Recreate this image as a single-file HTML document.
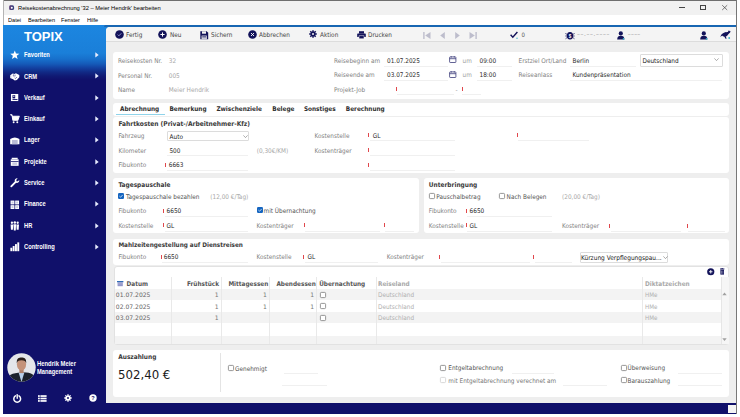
<!DOCTYPE html>
<html><head><meta charset="utf-8"><title>Reisekostenabrechnung</title>
<style>
html,body{margin:0;padding:0;width:740px;height:417px;overflow:hidden;background:#fff}
body{position:relative}
.t{position:absolute;white-space:nowrap;line-height:10px;height:10px}
svg{overflow:visible}
</style></head><body>
<div style="position:absolute;left:0px;top:0px;width:740px;height:417px;background:#fff"></div>
<div style="position:absolute;left:3px;top:0px;width:734px;height:1px;background:#6e6e6e"></div>
<div style="position:absolute;left:3px;top:0px;width:1px;height:24.8px;background:#b4b4b4"></div>
<div style="position:absolute;left:736px;top:0px;width:1px;height:414px;background:#777"></div>
<div style="position:absolute;left:4px;top:1px;width:732px;height:13.5px;background:#f1f1f1"></div>
<div style="position:absolute;left:4px;top:14.5px;width:732px;height:10.3px;background:#ffffff"></div>
<svg style="position:absolute;left:8.9px;top:4.6px" width="5.4" height="5.4" viewBox="0 0 5.4 5.4"><rect x="0.3" y="0.3" width="4.8" height="4.8" rx="1.6" fill="#3a3f7c"/><rect x="0.3" y="0.3" width="2.2" height="4.8" rx="1.1" fill="#6b3d78" opacity=".7"/><circle cx="2.8" cy="2.8" r="1" fill="#fff"/></svg>
<div class="t" style="left:18.0px;top:3.1px;font-size:6.1px;color:#000;font-weight:400;font-family:'Liberation Sans', Arial, sans-serif;transform:scaleX(0.94);transform-origin:0 0">Reisekostenabrechnung '32 – Meier Hendrik' bearbeiten</div>
<div style="position:absolute;left:678.5px;top:7.2px;width:6.2000000000000455px;height:0.7999999999999998px;background:#444"></div>
<div style="position:absolute;left:700px;top:5.1px;width:5.7999999999999545px;height:5.1px;border:0.9px solid #444;box-sizing:border-box"></div>
<svg style="position:absolute;left:722.4px;top:5px" width="5.4" height="5.2" viewBox="0 0 5.4 5.2"><path d="M0.2 0.2L5.2 5M5.2 0.2L0.2 5" stroke="#444" stroke-width="0.7"/></svg>
<div class="t" style="left:8.0px;top:14.7px;font-size:5.9px;color:#000;font-weight:400;font-family:'Liberation Sans', Arial, sans-serif;transform:scaleX(0.95);transform-origin:0 0">Datei</div>
<div class="t" style="left:27.5px;top:14.7px;font-size:5.9px;color:#000;font-weight:400;font-family:'Liberation Sans', Arial, sans-serif;transform:scaleX(0.95);transform-origin:0 0">Bearbeiten</div>
<div class="t" style="left:61.0px;top:14.7px;font-size:5.9px;color:#000;font-weight:400;font-family:'Liberation Sans', Arial, sans-serif;transform:scaleX(0.95);transform-origin:0 0">Fenster</div>
<div class="t" style="left:87.0px;top:14.7px;font-size:5.9px;color:#000;font-weight:400;font-family:'Liberation Sans', Arial, sans-serif;transform:scaleX(0.95);transform-origin:0 0">Hilfe</div>
<div style="position:absolute;left:3.4px;top:24.8px;width:732.6px;height:388.8px;background:linear-gradient(180deg,#1c86e0 0px,#1a7fd9 28px,#1770cc 34px,#155ab8 39px,#1340a0 43px,#112a86 47px,#101a74 51px,#10106a 55px,#10106a 100%)"></div>
<div style="position:absolute;left:104px;top:24.8px;width:632px;height:2.599999999999998px;background:#1766b2;border-top-left-radius:2px"></div>
<div style="position:absolute;left:106px;top:27.2px;width:630px;height:376.1px;background:#eeeeee;border-top-left-radius:4px"></div>
<div style="position:absolute;left:106px;top:27.2px;width:630px;height:13.8px;background:#f4f4f4;border-top-left-radius:4px;border-bottom:1px solid #dcdcdc"></div>
<div style="position:absolute;left:728px;top:405px;width:8px;height:8px;background:#f4f4f4"></div>
<div class="t" style="left:24.0px;top:32.4px;font-size:13px;color:#ffffff;font-weight:700;font-family:'Liberation Sans', Arial, sans-serif;">TOPIX</div>
<svg style="position:absolute;left:10.2px;top:50.4px" width="9.6" height="9.6" viewBox="0 0 10 10"><path d="M5.00 0.40 L6.23 3.70 L9.76 3.85 L7.00 6.05 L7.94 9.45 L5.00 7.50 L2.06 9.45 L3.00 6.05 L0.24 3.85 L3.77 3.70Z" fill="#fff"/></svg>
<div class="t" style="left:23.8px;top:50.2px;font-size:6.7px;color:#ffffff;font-weight:700;font-family:'Liberation Sans', Arial, sans-serif;transform:scaleX(0.86);transform-origin:0 0">Favoriten</div>
<svg style="position:absolute;left:94.8px;top:52.1px" width="4" height="6" viewBox="0 0 4 6"><path d="M0.3 0.3L3.7 2.9L0.3 5.5Z" fill="#e8ecff"/></svg>
<svg style="position:absolute;left:10.2px;top:71.7px" width="9.6" height="9.6" viewBox="0 0 10 10"><path d="M0.3 3.4L2.8 1.6L4.6 2.2L6.2 1.4L9.7 3L9.7 5.6L7.2 8.4L5 8.9L3.2 7.6L0.3 6.2Z" fill="#fff"/><path d="M4.6 2.2L3 3.6L4.2 4.4L6 3.2M6 5.2L7.4 6.2M4.8 6.2L6.2 7.2" stroke="#10106a" stroke-width="0.55" fill="none"/><path d="M0.3 3.4L0.3 6.2L1.4 6.8L1.4 3.8Z" fill="#c9cbe0"/></svg>
<div class="t" style="left:23.8px;top:71.5px;font-size:6.7px;color:#ffffff;font-weight:700;font-family:'Liberation Sans', Arial, sans-serif;transform:scaleX(0.86);transform-origin:0 0">CRM</div>
<svg style="position:absolute;left:94.8px;top:73.4px" width="4" height="6" viewBox="0 0 4 6"><path d="M0.3 0.3L3.7 2.9L0.3 5.5Z" fill="#e8ecff"/></svg>
<svg style="position:absolute;left:10.2px;top:93.0px" width="9.6" height="9.6" viewBox="0 0 10 10"><rect x="1" y="1" width="7.6" height="7.4" fill="#fff"/><rect x="2.6" y="2.2" width="2.8" height="3.4" fill="#10106a"/><rect x="3.4" y="2.8" width="1.2" height="1.2" fill="#fff"/><rect x="2.6" y="6.4" width="5.2" height="0.9" fill="#10106a"/></svg>
<div class="t" style="left:23.8px;top:92.8px;font-size:6.7px;color:#ffffff;font-weight:700;font-family:'Liberation Sans', Arial, sans-serif;transform:scaleX(0.86);transform-origin:0 0">Verkauf</div>
<svg style="position:absolute;left:94.8px;top:94.7px" width="4" height="6" viewBox="0 0 4 6"><path d="M0.3 0.3L3.7 2.9L0.3 5.5Z" fill="#e8ecff"/></svg>
<svg style="position:absolute;left:10.2px;top:114.3px" width="9.6" height="9.6" viewBox="0 0 10 10"><path d="M0.2 0.8H2L3 6.4H8.2L9.6 2.4H2.6" stroke="#fff" stroke-width="1.1" fill="#fff" stroke-linejoin="round"/><circle cx="3.8" cy="8.6" r="1" fill="#fff"/><circle cx="7.6" cy="8.6" r="1" fill="#fff"/></svg>
<div class="t" style="left:23.8px;top:114.1px;font-size:6.7px;color:#ffffff;font-weight:700;font-family:'Liberation Sans', Arial, sans-serif;transform:scaleX(0.86);transform-origin:0 0">Einkauf</div>
<svg style="position:absolute;left:94.8px;top:116.0px" width="4" height="6" viewBox="0 0 4 6"><path d="M0.3 0.3L3.7 2.9L0.3 5.5Z" fill="#e8ecff"/></svg>
<svg style="position:absolute;left:10.2px;top:135.6px" width="9.6" height="9.6" viewBox="0 0 10 10"><path d="M0.2 3.2Q5 -0.2 9.8 3.2V8.6H0.2Z" fill="#fff"/><rect x="2" y="4.2" width="6" height="4.4" fill="#b9bbd6"/></svg>
<div class="t" style="left:23.8px;top:135.4px;font-size:6.7px;color:#ffffff;font-weight:700;font-family:'Liberation Sans', Arial, sans-serif;transform:scaleX(0.86);transform-origin:0 0">Lager</div>
<svg style="position:absolute;left:94.8px;top:137.3px" width="4" height="6" viewBox="0 0 4 6"><path d="M0.3 0.3L3.7 2.9L0.3 5.5Z" fill="#e8ecff"/></svg>
<svg style="position:absolute;left:10.2px;top:156.9px" width="9.6" height="9.6" viewBox="0 0 10 10"><rect x="0.8" y="2.4" width="8.2" height="6.8" fill="#fff"/><rect x="1.8" y="0.8" width="6.2" height="1.4" fill="#fff"/><rect x="0.8" y="4.2" width="8.2" height="0.8" fill="#10106a"/><rect x="2.4" y="5.6" width="5" height="2.6" fill="#c9cbe0"/></svg>
<div class="t" style="left:23.8px;top:156.7px;font-size:6.7px;color:#ffffff;font-weight:700;font-family:'Liberation Sans', Arial, sans-serif;transform:scaleX(0.86);transform-origin:0 0">Projekte</div>
<svg style="position:absolute;left:94.8px;top:158.6px" width="4" height="6" viewBox="0 0 4 6"><path d="M0.3 0.3L3.7 2.9L0.3 5.5Z" fill="#e8ecff"/></svg>
<svg style="position:absolute;left:10.2px;top:178.2px" width="9.6" height="9.6" viewBox="0 0 10 10"><path d="M8 0.4a2.5 2.5 0 0 0-3 3.2L0.6 8a1 1 0 0 0 1.4 1.4L6.4 5a2.5 2.5 0 0 0 3.2-3L8.2 3.4 6.7 3.3 6.6 1.8Z" fill="#fff"/></svg>
<div class="t" style="left:23.8px;top:178.0px;font-size:6.7px;color:#ffffff;font-weight:700;font-family:'Liberation Sans', Arial, sans-serif;transform:scaleX(0.86);transform-origin:0 0">Service</div>
<svg style="position:absolute;left:94.8px;top:179.9px" width="4" height="6" viewBox="0 0 4 6"><path d="M0.3 0.3L3.7 2.9L0.3 5.5Z" fill="#e8ecff"/></svg>
<svg style="position:absolute;left:10.2px;top:199.5px" width="9.6" height="9.6" viewBox="0 0 10 10"><rect x="0.6" y="0.6" width="4" height="4" fill="#fff"/><rect x="5.4" y="0.6" width="4" height="4" fill="#fff"/><rect x="0.6" y="5.4" width="4" height="4" fill="#fff"/><rect x="5.4" y="5.4" width="4" height="4" fill="#fff"/><rect x="1.6" y="1.6" width="2" height="2" fill="#c9cbe0"/><rect x="6.4" y="1.6" width="2" height="2" fill="#c9cbe0"/><rect x="1.6" y="6.4" width="2" height="2" fill="#c9cbe0"/><rect x="6.4" y="6.4" width="2" height="2" fill="#c9cbe0"/></svg>
<div class="t" style="left:23.8px;top:199.3px;font-size:6.7px;color:#ffffff;font-weight:700;font-family:'Liberation Sans', Arial, sans-serif;transform:scaleX(0.86);transform-origin:0 0">Finance</div>
<svg style="position:absolute;left:94.8px;top:201.2px" width="4" height="6" viewBox="0 0 4 6"><path d="M0.3 0.3L3.7 2.9L0.3 5.5Z" fill="#e8ecff"/></svg>
<svg style="position:absolute;left:10.2px;top:220.8px" width="9.6" height="9.6" viewBox="0 0 10 10"><circle cx="2" cy="1.8" r="1.2" fill="#fff"/><circle cx="5" cy="1.6" r="1.3" fill="#fff"/><circle cx="8" cy="1.8" r="1.2" fill="#fff"/><path d="M0.6 3.6H3.4L3 9.2H1Z" fill="#fff"/><path d="M3.6 3.4H6.4L6 9.8H4Z" fill="#fff"/><path d="M6.6 3.6H9.4L9 9.2H7Z" fill="#fff"/></svg>
<div class="t" style="left:23.8px;top:220.6px;font-size:6.7px;color:#ffffff;font-weight:700;font-family:'Liberation Sans', Arial, sans-serif;transform:scaleX(0.86);transform-origin:0 0">HR</div>
<svg style="position:absolute;left:94.8px;top:222.5px" width="4" height="6" viewBox="0 0 4 6"><path d="M0.3 0.3L3.7 2.9L0.3 5.5Z" fill="#e8ecff"/></svg>
<svg style="position:absolute;left:10.2px;top:242.1px" width="9.6" height="9.6" viewBox="0 0 10 10"><rect x="0.4" y="6" width="2" height="3.6" fill="#fff"/><rect x="2.8" y="4.2" width="2" height="5.4" fill="#fff"/><rect x="5.2" y="2.2" width="2" height="7.4" fill="#fff"/><rect x="7.6" y="0.4" width="2" height="9.2" fill="#fff"/></svg>
<div class="t" style="left:23.8px;top:241.9px;font-size:6.7px;color:#ffffff;font-weight:700;font-family:'Liberation Sans', Arial, sans-serif;transform:scaleX(0.86);transform-origin:0 0">Controlling</div>
<svg style="position:absolute;left:94.8px;top:243.8px" width="4" height="6" viewBox="0 0 4 6"><path d="M0.3 0.3L3.7 2.9L0.3 5.5Z" fill="#e8ecff"/></svg>
<svg style="position:absolute;left:7px;top:352.5px" width="29" height="29" viewBox="0 0 29 29">
<defs><clipPath id="cc"><circle cx="14.5" cy="14.5" r="14.2"/></clipPath></defs>
<g clip-path="url(#cc)">
<rect x="0" y="0" width="29" height="29" fill="#e4e6ea"/>
<path d="M0 29C0 22 5 19.8 14.5 19.4S29 22 29 29Z" fill="#1c222c"/>
<path d="M11.6 19.6L14.5 29L17.4 19.6Z" fill="#b8d0ea"/>
<rect x="12.4" y="15.5" width="4.2" height="4.6" fill="#b08068"/>
<ellipse cx="14.5" cy="11.4" rx="4.6" ry="6" fill="#c4937a"/>
<path d="M9.8 10.6C9.4 5.4 11.8 4.6 14.5 4.6S19.6 5.4 19.2 10.6C18.8 8 17.4 7.2 14.5 7.2S10.2 8 9.8 10.6Z" fill="#2a201b"/>
</g></svg>
<div class="t" style="left:37.0px;top:359.2px;font-size:6.7px;color:#ffffff;font-weight:700;font-family:'Liberation Sans', Arial, sans-serif;transform:scaleX(0.88);transform-origin:0 0">Hendrik Meier</div>
<div class="t" style="left:37.0px;top:366.8px;font-size:6.7px;color:#ffffff;font-weight:700;font-family:'Liberation Sans', Arial, sans-serif;transform:scaleX(0.86);transform-origin:0 0">Management</div>
<svg style="position:absolute;left:12.8px;top:393.8px" width="8.4" height="8.4" viewBox="0 0 8.4 8.4"><path d="M2.4 1.9A3.4 3.4 0 1 0 6 1.9" stroke="#fff" stroke-width="1.5" fill="none" stroke-linecap="round"/><path d="M4.2 0.6V4.2" stroke="#fff" stroke-width="1.4" stroke-linecap="round"/></svg>
<svg style="position:absolute;left:38.2px;top:394.6px" width="8.6" height="7" viewBox="0 0 8.6 7"><rect x="0" y="0.2" width="1.8" height="1.7" fill="#fff"/><rect x="2.4" y="0.2" width="6.2" height="1.7" fill="#fff"/><rect x="0" y="2.65" width="1.8" height="1.7" fill="#fff"/><rect x="2.4" y="2.65" width="6.2" height="1.7" fill="#fff"/><rect x="0" y="5.1" width="1.8" height="1.7" fill="#fff"/><rect x="2.4" y="5.1" width="6.2" height="1.7" fill="#fff"/></svg>
<svg style="position:absolute;left:64px;top:394px" width="8" height="8" viewBox="0 0 8 8"><circle cx="4" cy="4" r="2.6" fill="#fff"/><path d="M4 0.3V7.7M0.3 4H7.7M1.4 1.4L6.6 6.6M6.6 1.4L1.4 6.6" stroke="#fff" stroke-width="1.3"/><circle cx="4" cy="4" r="1" fill="#10106a"/></svg>
<svg style="position:absolute;left:89px;top:394px" width="8" height="8" viewBox="0 0 8 8"><circle cx="4" cy="4" r="3.7" fill="#fff"/><text x="4" y="6.1" font-size="5.6" font-weight="700" text-anchor="middle" fill="#10106a" font-family="Liberation Sans">?</text></svg>
<svg style="position:absolute;left:114.5px;top:30.0px" width="9" height="9" viewBox="0 0 9 9"><circle cx="4.5" cy="4.5" r="4.3" fill="#13135a"/><path d="M2.7 4.6L3.9 5.8L6.3 3.3" stroke="#a8a8e0" stroke-width="0.8" fill="none"/></svg>
<div class="t" style="left:126.0px;top:29.6px;font-size:6.4px;color:#454545;font-weight:400;font-family:'DejaVu Sans', Verdana, sans-serif;font-stretch:condensed;">Fertig</div>
<svg style="position:absolute;left:158.0px;top:30.0px" width="9" height="9" viewBox="0 0 9 9"><circle cx="4.5" cy="4.5" r="4.3" fill="#13135a"/><path d="M4.5 2.4V6.6M2.4 4.5H6.6" stroke="#fff" stroke-width="1"/></svg>
<div class="t" style="left:170.0px;top:29.6px;font-size:6.4px;color:#454545;font-weight:400;font-family:'DejaVu Sans', Verdana, sans-serif;font-stretch:condensed;">Neu</div>
<svg style="position:absolute;left:199.5px;top:30.5px" width="8.5" height="8.5" viewBox="0 0 8.5 8.5"><path d="M0.3 0.3H6.7L8.2 1.8V8.2H0.3Z" fill="#13135a"/><rect x="2" y="0.3" width="4" height="2.4" fill="#f3f3f3"/><rect x="1.6" y="4.6" width="5.2" height="3.6" fill="#f3f3f3"/><rect x="2.2" y="5.4" width="4" height="0.6" fill="#13135a"/><rect x="2.2" y="6.6" width="4" height="0.6" fill="#13135a"/></svg>
<div class="t" style="left:211.0px;top:29.6px;font-size:6.4px;color:#454545;font-weight:400;font-family:'DejaVu Sans', Verdana, sans-serif;font-stretch:condensed;">Sichern</div>
<svg style="position:absolute;left:247.5px;top:30.0px" width="9" height="9" viewBox="0 0 9 9"><circle cx="4.5" cy="4.5" r="4.3" fill="#13135a"/><path d="M3 3L6 6M6 3L3 6" stroke="#fff" stroke-width="0.9"/></svg>
<div class="t" style="left:259.0px;top:29.6px;font-size:6.4px;color:#454545;font-weight:400;font-family:'DejaVu Sans', Verdana, sans-serif;font-stretch:condensed;">Abbrechen</div>
<svg style="position:absolute;left:309px;top:30.3px" width="8" height="8" viewBox="0 0 8 8"><circle cx="4" cy="4" r="2.5" fill="#13135a"/><path d="M4 0.2V7.8M0.2 4H7.8M1.3 1.3L6.7 6.7M6.7 1.3L1.3 6.7" stroke="#13135a" stroke-width="1.5"/><circle cx="4" cy="4" r="1" fill="#f3f3f3"/></svg>
<div class="t" style="left:320.0px;top:29.6px;font-size:6.4px;color:#454545;font-weight:400;font-family:'DejaVu Sans', Verdana, sans-serif;font-stretch:condensed;">Aktion</div>
<svg style="position:absolute;left:357px;top:30.5px" width="9" height="8" viewBox="0 0 9 8"><rect x="2" y="0.2" width="5" height="2.4" fill="#13135a"/><rect x="0.2" y="2.4" width="8.6" height="3.6" rx="0.6" fill="#13135a"/><rect x="2" y="4.8" width="5" height="3" fill="#13135a" stroke="#f3f3f3" stroke-width="0.5"/></svg>
<div class="t" style="left:368.0px;top:29.6px;font-size:6.4px;color:#454545;font-weight:400;font-family:'DejaVu Sans', Verdana, sans-serif;font-stretch:condensed;">Drucken</div>
<svg style="position:absolute;left:422.5px;top:31.5px" width="8" height="7" viewBox="0 0 8 7"><rect x="0.2" y="0" width="1.4" height="7" fill="#bdbdcc"/><path d="M7.5 0L2.2 3.5L7.5 7Z" fill="#bdbdcc"/></svg>
<svg style="position:absolute;left:440px;top:31.5px" width="5" height="7" viewBox="0 0 5 7"><path d="M4.8 0L0.2 3.5L4.8 7Z" fill="#bdbdcc"/></svg>
<svg style="position:absolute;left:454.5px;top:31.5px" width="5" height="7" viewBox="0 0 5 7"><path d="M0.2 0L4.8 3.5L0.2 7Z" fill="#bdbdcc"/></svg>
<svg style="position:absolute;left:469px;top:31.5px" width="8" height="7" viewBox="0 0 8 7"><rect x="6.4" y="0" width="1.4" height="7" fill="#bdbdcc"/><path d="M0.5 0L5.8 3.5L0.5 7Z" fill="#bdbdcc"/></svg>
<svg style="position:absolute;left:510px;top:31px" width="8" height="8" viewBox="0 0 8 8"><path d="M0.6 3.8L2.8 6.2L7.4 1" stroke="#13135a" stroke-width="1.4" fill="none"/><circle cx="7" cy="7.2" r="0.7" fill="#36b3c9"/></svg>
<div class="t" style="left:521.5px;top:29.8px;font-size:6px;color:#555;font-weight:400;font-family:'DejaVu Sans', Verdana, sans-serif;font-stretch:condensed;">0</div>
<svg style="position:absolute;left:565px;top:30.5px" width="10" height="9" viewBox="0 0 10 9"><ellipse cx="5" cy="4.8" rx="3.2" ry="3.8" fill="#13135a"/><path d="M0.3 2.5L2.5 3.5M0.3 5L2 5M0.5 7.8L2.3 6.4M9.7 2.5L7.5 3.5M9.7 5L8 5M9.5 7.8L7.7 6.4" stroke="#13135a" stroke-width="0.7"/><text x="5" y="6.6" font-size="4.5" font-weight="700" text-anchor="middle" fill="#fff" font-family="Liberation Sans">$</text></svg>
<div class="t" style="left:577.0px;top:29.4px;font-size:6.4px;color:#999;font-weight:400;font-family:'DejaVu Sans', Verdana, sans-serif;font-stretch:condensed;letter-spacing:0.65px">––.––.––––</div>
<svg style="position:absolute;left:617px;top:30.5px" width="8" height="9" viewBox="0 0 8 9"><circle cx="3.8" cy="2.4" r="2.1" fill="#13135a"/><path d="M0.2 8.6C0.2 5.6 1.6 4.8 3.8 4.8S7.4 5.6 7.4 8.6Z" fill="#13135a"/><circle cx="6.6" cy="7.8" r="0.9" fill="#36b3c9"/></svg>
<div class="t" style="left:627.8px;top:29.4px;font-size:6.4px;color:#999;font-weight:400;font-family:'DejaVu Sans', Verdana, sans-serif;font-stretch:condensed;letter-spacing:0.3px">––––</div>
<svg style="position:absolute;left:699.5px;top:30.5px" width="8" height="9" viewBox="0 0 8 9"><circle cx="3.8" cy="2.4" r="2.1" fill="#13135a"/><path d="M0.2 8.6C0.2 5.6 1.6 4.8 3.8 4.8S7.4 5.6 7.4 8.6Z" fill="#13135a"/><circle cx="6.6" cy="7.8" r="0.9" fill="#36b3c9"/></svg>
<svg style="position:absolute;left:719.5px;top:30.2px" width="11" height="9" viewBox="0 0 11 9"><path d="M0.3 6.9C1 5 2 3.3 4 2.7C5.5 2.2 7 2.3 7.8 2.1L8.9 0.2L9.5 1L10.7 1.5L9.9 2.8C9.3 3.6 8.3 4.2 7.7 5C7.1 6 6.3 6.4 5.7 6.6L6.7 8.4L5.5 8.7L4.4 6.7C3.4 6.7 2.6 6.1 2.2 5.5C1.6 6.1 1 6.7 0.3 6.9Z" fill="#13135a"/><circle cx="9.2" cy="8" r="0.9" fill="#36b3c9"/></svg>
<div style="position:absolute;left:113px;top:52px;width:616px;height:47px;background:#fff;border-radius:3px"></div>
<div style="position:absolute;left:113px;top:103px;width:616px;height:13px;background:#fff;border-radius:3px"></div>
<div style="position:absolute;left:113px;top:117px;width:616px;height:56px;background:#fff;border-radius:3px"></div>
<div style="position:absolute;left:113px;top:177.5px;width:305.7px;height:55.80000000000001px;background:#fff;border-radius:3px"></div>
<div style="position:absolute;left:423.5px;top:177.5px;width:305.5px;height:55.80000000000001px;background:#fff;border-radius:3px"></div>
<div style="position:absolute;left:113px;top:238.5px;width:616px;height:26.5px;background:#fff;border-radius:3px"></div>
<div style="position:absolute;left:113.5px;top:265.5px;width:615.5px;height:79.5px;background:#fff;border-radius:3px;border:1px solid #e2e2e2;box-sizing:border-box"></div>
<div style="position:absolute;left:113px;top:350px;width:616px;height:47px;background:#fff;border-radius:3px"></div>
<div class="t" style="left:118.0px;top:55.8px;font-size:6.4px;color:#828282;font-weight:400;font-family:'DejaVu Sans', Verdana, sans-serif;font-stretch:condensed;">Reisekosten Nr.</div>
<div class="t" style="left:168.8px;top:55.8px;font-size:6.4px;color:#a8a8a8;font-weight:400;font-family:'DejaVu Sans', Verdana, sans-serif;font-stretch:condensed;">32</div>
<div class="t" style="left:118.0px;top:70.5px;font-size:6.4px;color:#828282;font-weight:400;font-family:'DejaVu Sans', Verdana, sans-serif;font-stretch:condensed;">Personal Nr.</div>
<div class="t" style="left:168.8px;top:70.5px;font-size:6.4px;color:#a8a8a8;font-weight:400;font-family:'DejaVu Sans', Verdana, sans-serif;font-stretch:condensed;">005</div>
<div class="t" style="left:118.0px;top:84.8px;font-size:6.4px;color:#828282;font-weight:400;font-family:'DejaVu Sans', Verdana, sans-serif;font-stretch:condensed;">Name</div>
<div class="t" style="left:168.8px;top:84.8px;font-size:6.4px;color:#a8a8a8;font-weight:400;font-family:'DejaVu Sans', Verdana, sans-serif;font-stretch:condensed;">Meier Hendrik</div>
<div class="t" style="left:334.0px;top:55.6px;font-size:6.4px;color:#828282;font-weight:400;font-family:'DejaVu Sans', Verdana, sans-serif;font-stretch:condensed;">Reisebeginn am</div>
<div class="t" style="left:387.0px;top:55.6px;font-size:6.4px;color:#2a2a2a;font-weight:400;font-family:'DejaVu Sans', Verdana, sans-serif;font-stretch:condensed;">01.07.2025</div>
<div style="position:absolute;left:384px;top:65.5px;width:64px;height:1.0px;background:#f0f0f0"></div>
<div class="t" style="left:334.0px;top:70.2px;font-size:6.4px;color:#828282;font-weight:400;font-family:'DejaVu Sans', Verdana, sans-serif;font-stretch:condensed;">Reiseende am</div>
<div class="t" style="left:387.0px;top:70.2px;font-size:6.4px;color:#2a2a2a;font-weight:400;font-family:'DejaVu Sans', Verdana, sans-serif;font-stretch:condensed;">03.07.2025</div>
<div style="position:absolute;left:384px;top:80px;width:64px;height:1px;background:#f0f0f0"></div>
<svg style="position:absolute;left:449px;top:56.3px" width="7.5" height="7" viewBox="0 0 7.5 7"><rect x="0.6" y="0.9" width="6.3" height="5.6" rx="0.6" fill="none" stroke="#3b3b7a" stroke-width="0.8"/><path d="M0.6 2.7H6.9" stroke="#3b3b7a" stroke-width="0.8"/><path d="M2.2 0.2V1.6M5.3 0.2V1.6" stroke="#3b3b7a" stroke-width="0.8"/></svg>
<svg style="position:absolute;left:449px;top:70.9px" width="7.5" height="7" viewBox="0 0 7.5 7"><rect x="0.6" y="0.9" width="6.3" height="5.6" rx="0.6" fill="none" stroke="#3b3b7a" stroke-width="0.8"/><path d="M0.6 2.7H6.9" stroke="#3b3b7a" stroke-width="0.8"/><path d="M2.2 0.2V1.6M5.3 0.2V1.6" stroke="#3b3b7a" stroke-width="0.8"/></svg>
<div class="t" style="left:462.5px;top:55.6px;font-size:6.4px;color:#a0a0a0;font-weight:400;font-family:'DejaVu Sans', Verdana, sans-serif;font-stretch:condensed;">um</div>
<div class="t" style="left:462.5px;top:70.2px;font-size:6.4px;color:#a0a0a0;font-weight:400;font-family:'DejaVu Sans', Verdana, sans-serif;font-stretch:condensed;">um</div>
<div class="t" style="left:479.5px;top:55.6px;font-size:6.4px;color:#2a2a2a;font-weight:400;font-family:'DejaVu Sans', Verdana, sans-serif;font-stretch:condensed;">09:00</div>
<div class="t" style="left:479.5px;top:70.2px;font-size:6.4px;color:#2a2a2a;font-weight:400;font-family:'DejaVu Sans', Verdana, sans-serif;font-stretch:condensed;">18:00</div>
<div style="position:absolute;left:477px;top:65.5px;width:35px;height:1.0px;background:#f0f0f0"></div>
<div style="position:absolute;left:477px;top:80px;width:35px;height:1px;background:#f0f0f0"></div>
<div class="t" style="left:334.0px;top:85.2px;font-size:6.4px;color:#828282;font-weight:400;font-family:'DejaVu Sans', Verdana, sans-serif;font-stretch:condensed;">Projekt-Job</div>
<div style="position:absolute;left:396px;top:87.4px;width:1px;height:4.0px;background:#e0474c"></div>
<div style="position:absolute;left:397px;top:94px;width:57px;height:1px;background:#f0f0f0"></div>
<div class="t" style="left:455.5px;top:85.2px;font-size:6.4px;color:#999;font-weight:400;font-family:'DejaVu Sans', Verdana, sans-serif;font-stretch:condensed;">-</div>
<div style="position:absolute;left:461.5px;top:87.4px;width:1.0px;height:4.0px;background:#e0474c"></div>
<div style="position:absolute;left:462px;top:94px;width:19px;height:1px;background:#f0f0f0"></div>
<div class="t" style="left:518.5px;top:55.6px;font-size:6.4px;color:#828282;font-weight:400;font-family:'DejaVu Sans', Verdana, sans-serif;font-stretch:condensed;">Erstziel Ort/Land</div>
<div class="t" style="left:572.5px;top:55.6px;font-size:6.4px;color:#2a2a2a;font-weight:400;font-family:'DejaVu Sans', Verdana, sans-serif;font-stretch:condensed;">Berlin</div>
<div style="position:absolute;left:570px;top:65.5px;width:66px;height:1.0px;background:#f0f0f0"></div>
<div style="position:absolute;left:640px;top:53.5px;width:82.5px;height:13.0px;border:1px solid #dcdcdc;box-sizing:border-box;background:#fff;border-radius:1px"></div>
<div class="t" style="left:642.5px;top:55.7px;font-size:6.4px;color:#1a1a1a;font-weight:400;font-family:'DejaVu Sans', Verdana, sans-serif;font-stretch:condensed;">Deutschland</div>
<svg style="position:absolute;left:714px;top:58px" width="5" height="3.5" viewBox="0 0 5 3.5"><path d="M0.4 0.4L2.5 2.6L4.6 0.4" stroke="#777" stroke-width="0.6" fill="none"/></svg>
<div class="t" style="left:518.5px;top:70.2px;font-size:6.4px;color:#828282;font-weight:400;font-family:'DejaVu Sans', Verdana, sans-serif;font-stretch:condensed;">Reiseanlass</div>
<div class="t" style="left:572.5px;top:70.2px;font-size:6.4px;color:#2a2a2a;font-weight:400;font-family:'DejaVu Sans', Verdana, sans-serif;font-stretch:condensed;">Kundenpräsentation</div>
<div style="position:absolute;left:570px;top:80px;width:152px;height:1px;background:#f0f0f0"></div>
<div class="t" style="left:120.0px;top:104.2px;font-size:6.4px;color:#2e2e2e;font-weight:700;font-family:'DejaVu Sans', Verdana, sans-serif;font-stretch:condensed;">Abrechnung</div>
<div class="t" style="left:169.4px;top:104.2px;font-size:6.4px;color:#2e2e2e;font-weight:700;font-family:'DejaVu Sans', Verdana, sans-serif;font-stretch:condensed;">Bemerkung</div>
<div class="t" style="left:216.4px;top:104.2px;font-size:6.4px;color:#2e2e2e;font-weight:700;font-family:'DejaVu Sans', Verdana, sans-serif;font-stretch:condensed;">Zwischenziele</div>
<div class="t" style="left:272.3px;top:104.2px;font-size:6.4px;color:#2e2e2e;font-weight:700;font-family:'DejaVu Sans', Verdana, sans-serif;font-stretch:condensed;">Belege</div>
<div class="t" style="left:303.9px;top:104.2px;font-size:6.4px;color:#2e2e2e;font-weight:700;font-family:'DejaVu Sans', Verdana, sans-serif;font-stretch:condensed;">Sonstiges</div>
<div class="t" style="left:345.8px;top:104.2px;font-size:6.4px;color:#2e2e2e;font-weight:700;font-family:'DejaVu Sans', Verdana, sans-serif;font-stretch:condensed;">Berechnung</div>
<div style="position:absolute;left:116px;top:113.6px;width:48.5px;height:1.0px;background:#8fd3ea"></div>
<div class="t" style="left:118.4px;top:118.8px;font-size:6.6px;color:#3a3a3a;font-weight:700;font-family:'DejaVu Sans', Verdana, sans-serif;font-stretch:condensed;">Fahrtkosten (Privat-/Arbeitnehmer-Kfz)</div>
<div class="t" style="left:118.4px;top:131.2px;font-size:6.4px;color:#828282;font-weight:400;font-family:'DejaVu Sans', Verdana, sans-serif;font-stretch:condensed;">Fahrzeug</div>
<div style="position:absolute;left:167.3px;top:130.7px;width:81.69999999999999px;height:10.5px;border:1px solid #dcdcdc;box-sizing:border-box;background:#fff;border-radius:1px"></div>
<div class="t" style="left:169.6px;top:131.7px;font-size:6.4px;color:#1a1a1a;font-weight:400;font-family:'DejaVu Sans', Verdana, sans-serif;font-stretch:condensed;">Auto</div>
<svg style="position:absolute;left:242.8px;top:135px" width="4.6" height="3" viewBox="0 0 4.6 3"><path d="M0.4 0.4L2.5 2.6L4.6 0.4" stroke="#777" stroke-width="0.6" fill="none"/></svg>
<div class="t" style="left:118.4px;top:145.5px;font-size:6.4px;color:#828282;font-weight:400;font-family:'DejaVu Sans', Verdana, sans-serif;font-stretch:condensed;">Kilometer</div>
<div class="t" style="left:169.4px;top:145.5px;font-size:6.4px;color:#2a2a2a;font-weight:400;font-family:'DejaVu Sans', Verdana, sans-serif;font-stretch:condensed;">500</div>
<div style="position:absolute;left:167px;top:155px;width:81px;height:1px;background:#f0f0f0"></div>
<div class="t" style="left:256.7px;top:145.5px;font-size:6.4px;color:#a8a8a8;font-weight:400;font-family:'DejaVu Sans', Verdana, sans-serif;font-stretch:condensed;">(0,30€/KM)</div>
<div class="t" style="left:118.4px;top:160.4px;font-size:6.4px;color:#828282;font-weight:400;font-family:'DejaVu Sans', Verdana, sans-serif;font-stretch:condensed;">Fibukonto</div>
<div style="position:absolute;left:165.3px;top:162.6px;width:1.0px;height:4.0px;background:#e0474c"></div>
<div class="t" style="left:168.8px;top:160.4px;font-size:6.4px;color:#2a2a2a;font-weight:400;font-family:'DejaVu Sans', Verdana, sans-serif;font-stretch:condensed;">6663</div>
<div style="position:absolute;left:167px;top:170px;width:81px;height:1px;background:#f0f0f0"></div>
<div class="t" style="left:314.5px;top:131.2px;font-size:6.4px;color:#828282;font-weight:400;font-family:'DejaVu Sans', Verdana, sans-serif;font-stretch:condensed;">Kostenstelle</div>
<div style="position:absolute;left:368.4px;top:133.4px;width:1.0px;height:4.0px;background:#e0474c"></div>
<div class="t" style="left:372.8px;top:131.2px;font-size:6.4px;color:#2a2a2a;font-weight:400;font-family:'DejaVu Sans', Verdana, sans-serif;font-stretch:condensed;">GL</div>
<div style="position:absolute;left:370px;top:140.4px;width:85px;height:1.0px;background:#f0f0f0"></div>
<div class="t" style="left:314.5px;top:145.5px;font-size:6.4px;color:#828282;font-weight:400;font-family:'DejaVu Sans', Verdana, sans-serif;font-stretch:condensed;">Kostenträger</div>
<div style="position:absolute;left:368.4px;top:147.7px;width:1.0px;height:4.0px;background:#e0474c"></div>
<div style="position:absolute;left:370px;top:155px;width:85px;height:1px;background:#f0f0f0"></div>
<div style="position:absolute;left:368.4px;top:162.6px;width:1.0px;height:4.0px;background:#e0474c"></div>
<div style="position:absolute;left:370px;top:169.6px;width:85px;height:1.0px;background:#f0f0f0"></div>
<div style="position:absolute;left:516.5px;top:133.4px;width:1.0px;height:4.0px;background:#e0474c"></div>
<div style="position:absolute;left:517.5px;top:140.4px;width:71.5px;height:1.0px;background:#f0f0f0"></div>
<div class="t" style="left:118.4px;top:179.8px;font-size:6.5px;color:#3a3a3a;font-weight:700;font-family:'DejaVu Sans', Verdana, sans-serif;font-stretch:condensed;">Tagespauschale</div>
<svg style="position:absolute;left:118.4px;top:193px" width="6" height="6" viewBox="0 0 6 6"><rect x="0" y="0" width="6" height="6" rx="1.2" fill="#1565c0"/><path d="M1.4 3.1L2.6 4.2L4.7 1.9" stroke="#fff" stroke-width="0.7" fill="none"/></svg>
<div class="t" style="left:126.0px;top:191.8px;font-size:6.4px;color:#555;font-weight:400;font-family:'DejaVu Sans', Verdana, sans-serif;font-stretch:condensed;">Tagespauschale bezahlen</div>
<div class="t" style="left:210.3px;top:191.8px;font-size:6.4px;color:#a8a8a8;font-weight:400;font-family:'DejaVu Sans', Verdana, sans-serif;font-stretch:condensed;">(12,00 €/Tag)</div>
<div class="t" style="left:118.4px;top:206.4px;font-size:6.4px;color:#828282;font-weight:400;font-family:'DejaVu Sans', Verdana, sans-serif;font-stretch:condensed;">Fibukonto</div>
<div style="position:absolute;left:162.8px;top:208.6px;width:1.0px;height:4.0px;background:#e0474c"></div>
<div class="t" style="left:166.6px;top:206.4px;font-size:6.4px;color:#2a2a2a;font-weight:400;font-family:'DejaVu Sans', Verdana, sans-serif;font-stretch:condensed;">6650</div>
<div style="position:absolute;left:165px;top:216px;width:83px;height:1px;background:#f0f0f0"></div>
<div class="t" style="left:118.4px;top:220.8px;font-size:6.4px;color:#828282;font-weight:400;font-family:'DejaVu Sans', Verdana, sans-serif;font-stretch:condensed;">Kostenstelle</div>
<div style="position:absolute;left:162.8px;top:223px;width:1.0px;height:4px;background:#e0474c"></div>
<div class="t" style="left:166.6px;top:220.8px;font-size:6.4px;color:#2a2a2a;font-weight:400;font-family:'DejaVu Sans', Verdana, sans-serif;font-stretch:condensed;">GL</div>
<div style="position:absolute;left:165px;top:230.5px;width:83px;height:1.0px;background:#f0f0f0"></div>
<svg style="position:absolute;left:256.5px;top:207px" width="6" height="6" viewBox="0 0 6 6"><rect x="0" y="0" width="6" height="6" rx="1.2" fill="#1565c0"/><path d="M1.4 3.1L2.6 4.2L4.7 1.9" stroke="#fff" stroke-width="0.7" fill="none"/></svg>
<div class="t" style="left:263.6px;top:205.8px;font-size:6.4px;color:#555;font-weight:400;font-family:'DejaVu Sans', Verdana, sans-serif;font-stretch:condensed;">mit Übernachtung</div>
<div class="t" style="left:256.5px;top:221.0px;font-size:6.4px;color:#828282;font-weight:400;font-family:'DejaVu Sans', Verdana, sans-serif;font-stretch:condensed;">Kostenträger</div>
<div style="position:absolute;left:303.6px;top:223.2px;width:1.0px;height:4.0px;background:#e0474c"></div>
<div style="position:absolute;left:305px;top:230.5px;width:75px;height:1.0px;background:#f0f0f0"></div>
<div style="position:absolute;left:383.6px;top:223.2px;width:1.0px;height:4.0px;background:#e0474c"></div>
<div style="position:absolute;left:385px;top:230.5px;width:29px;height:1.0px;background:#f0f0f0"></div>
<div class="t" style="left:428.8px;top:179.8px;font-size:6.5px;color:#3a3a3a;font-weight:700;font-family:'DejaVu Sans', Verdana, sans-serif;font-stretch:condensed;">Unterbringung</div>
<svg style="position:absolute;left:428.8px;top:193px" width="6" height="6" viewBox="0 0 6 6"><rect x="0.4" y="0.4" width="5.2" height="5.2" rx="1" fill="#fff" stroke="#6a6a6a" stroke-width="0.7"/></svg>
<div class="t" style="left:436.3px;top:191.8px;font-size:6.4px;color:#555;font-weight:400;font-family:'DejaVu Sans', Verdana, sans-serif;font-stretch:condensed;">Pauschalbetrag</div>
<svg style="position:absolute;left:499px;top:193px" width="6" height="6" viewBox="0 0 6 6"><rect x="0.4" y="0.4" width="5.2" height="5.2" rx="1" fill="#fff" stroke="#6a6a6a" stroke-width="0.7"/></svg>
<div class="t" style="left:506.6px;top:191.8px;font-size:6.4px;color:#555;font-weight:400;font-family:'DejaVu Sans', Verdana, sans-serif;font-stretch:condensed;">Nach Belegen</div>
<div class="t" style="left:562.0px;top:191.8px;font-size:6.4px;color:#a8a8a8;font-weight:400;font-family:'DejaVu Sans', Verdana, sans-serif;font-stretch:condensed;">(20,00 €/Tag)</div>
<div class="t" style="left:428.8px;top:206.4px;font-size:6.4px;color:#828282;font-weight:400;font-family:'DejaVu Sans', Verdana, sans-serif;font-stretch:condensed;">Fibukonto</div>
<div style="position:absolute;left:466px;top:208.6px;width:1px;height:4.0px;background:#e0474c"></div>
<div class="t" style="left:469.6px;top:206.4px;font-size:6.4px;color:#2a2a2a;font-weight:400;font-family:'DejaVu Sans', Verdana, sans-serif;font-stretch:condensed;">6650</div>
<div style="position:absolute;left:467px;top:216px;width:85px;height:1px;background:#f0f0f0"></div>
<div class="t" style="left:428.8px;top:220.8px;font-size:6.4px;color:#828282;font-weight:400;font-family:'DejaVu Sans', Verdana, sans-serif;font-stretch:condensed;">Kostenstelle</div>
<div style="position:absolute;left:466px;top:223px;width:1px;height:4px;background:#e0474c"></div>
<div class="t" style="left:469.6px;top:220.8px;font-size:6.4px;color:#2a2a2a;font-weight:400;font-family:'DejaVu Sans', Verdana, sans-serif;font-stretch:condensed;">GL</div>
<div style="position:absolute;left:467px;top:230.5px;width:85px;height:1.0px;background:#f0f0f0"></div>
<div class="t" style="left:562.0px;top:221.3px;font-size:6.4px;color:#828282;font-weight:400;font-family:'DejaVu Sans', Verdana, sans-serif;font-stretch:condensed;">Kostenträger</div>
<div style="position:absolute;left:609px;top:223.5px;width:1px;height:4.0px;background:#e0474c"></div>
<div style="position:absolute;left:611px;top:230.5px;width:70px;height:1.0px;background:#f0f0f0"></div>
<div style="position:absolute;left:686.5px;top:223.5px;width:1.0px;height:4.0px;background:#e0474c"></div>
<div style="position:absolute;left:688px;top:230.5px;width:37px;height:1.0px;background:#f0f0f0"></div>
<div class="t" style="left:118.4px;top:240.4px;font-size:6.35px;color:#3a3a3a;font-weight:700;font-family:'DejaVu Sans', Verdana, sans-serif;font-stretch:condensed;">Mahlzeitengestellung auf Dienstreisen</div>
<div class="t" style="left:118.4px;top:252.4px;font-size:6.4px;color:#828282;font-weight:400;font-family:'DejaVu Sans', Verdana, sans-serif;font-stretch:condensed;">Fibukonto</div>
<div style="position:absolute;left:160.6px;top:254.6px;width:1.0px;height:4.000000000000028px;background:#e0474c"></div>
<div class="t" style="left:163.8px;top:252.4px;font-size:6.4px;color:#2a2a2a;font-weight:400;font-family:'DejaVu Sans', Verdana, sans-serif;font-stretch:condensed;">6650</div>
<div style="position:absolute;left:162px;top:262px;width:86px;height:1px;background:#f0f0f0"></div>
<div class="t" style="left:256.5px;top:252.4px;font-size:6.4px;color:#828282;font-weight:400;font-family:'DejaVu Sans', Verdana, sans-serif;font-stretch:condensed;">Kostenstelle</div>
<div style="position:absolute;left:303.2px;top:254.6px;width:1.0px;height:4.000000000000028px;background:#e0474c"></div>
<div class="t" style="left:307.6px;top:252.4px;font-size:6.4px;color:#2a2a2a;font-weight:400;font-family:'DejaVu Sans', Verdana, sans-serif;font-stretch:condensed;">GL</div>
<div style="position:absolute;left:305px;top:262px;width:73px;height:1px;background:#f0f0f0"></div>
<div class="t" style="left:386.7px;top:252.4px;font-size:6.4px;color:#828282;font-weight:400;font-family:'DejaVu Sans', Verdana, sans-serif;font-stretch:condensed;">Kostenträger</div>
<div style="position:absolute;left:439px;top:254.6px;width:1px;height:4.000000000000028px;background:#e0474c"></div>
<div style="position:absolute;left:440.5px;top:262px;width:89.5px;height:1px;background:#f0f0f0"></div>
<div style="position:absolute;left:533.3px;top:254.6px;width:1.0px;height:4.000000000000028px;background:#e0474c"></div>
<div style="position:absolute;left:535px;top:262px;width:37px;height:1px;background:#f0f0f0"></div>
<div style="position:absolute;left:579.7px;top:252px;width:88.5px;height:10.600000000000023px;border:1px solid #dcdcdc;box-sizing:border-box;background:#fff;border-radius:1px"></div>
<div class="t" style="left:581.0px;top:253.4px;font-size:6.5px;color:#1a1a1a;font-weight:400;font-family:'DejaVu Sans', Verdana, sans-serif;font-stretch:condensed;">Kürzung Verpflegungspau...</div>
<svg style="position:absolute;left:662.6px;top:256px" width="4.4" height="3" viewBox="0 0 4.4 3"><path d="M0.4 0.4L2.5 2.6L4.6 0.4" stroke="#777" stroke-width="0.6" fill="none"/></svg>
<svg style="position:absolute;left:706.8px;top:268px" width="7.5" height="7.5" viewBox="0 0 7.5 7.5"><circle cx="3.75" cy="3.75" r="3.6" fill="#13135a"/><path d="M3.75 2V5.5M2 3.75H5.5" stroke="#fff" stroke-width="0.9"/></svg>
<svg style="position:absolute;left:720.3px;top:268.2px" width="4.4" height="6.6" viewBox="0 0 4.4 6.6"><rect x="0" y="0.5" width="4.4" height="0.9" fill="#13135a"/><rect x="1.4" y="0" width="1.6" height="0.7" fill="#13135a"/><rect x="0.4" y="1.7" width="3.6" height="4.9" fill="#13135a"/><path d="M1.5 2.6V5.8M2.9 2.6V5.8" stroke="#fff" stroke-width="0.4"/></svg>
<div style="position:absolute;left:114.5px;top:289px;width:606.0px;height:11.300000000000011px;background:#f3f3f3"></div>
<div style="position:absolute;left:114.5px;top:312px;width:606.0px;height:11.399999999999977px;background:#f3f3f3"></div>
<div style="position:absolute;left:114.5px;top:335.5px;width:606.0px;height:8.5px;background:#f3f3f3"></div>
<div style="position:absolute;left:171.2px;top:277px;width:1.0px;height:67px;background:#e9e9e9"></div>
<div style="position:absolute;left:220.7px;top:277px;width:1.0px;height:67px;background:#e9e9e9"></div>
<div style="position:absolute;left:268.6px;top:277px;width:1.0px;height:67px;background:#e9e9e9"></div>
<div style="position:absolute;left:316px;top:277px;width:1px;height:67px;background:#e9e9e9"></div>
<div style="position:absolute;left:375.5px;top:277px;width:1.0px;height:67px;background:#e9e9e9"></div>
<div style="position:absolute;left:642.2px;top:277px;width:1.0px;height:67px;background:#e9e9e9"></div>
<div style="position:absolute;left:720.5px;top:277px;width:7.5px;height:67px;background:#f6f6f6;border-left:1px solid #e6e6e6"></div>
<svg style="position:absolute;left:721.8px;top:291.5px" width="5" height="3.5" viewBox="0 0 5 3.5"><path d="M0.3 3.2L2.5 0.4L4.7 3.2Z" fill="#a0a0a0"/></svg>
<svg style="position:absolute;left:721.8px;top:338px" width="5" height="3.5" viewBox="0 0 5 3.5"><path d="M0.3 0.3L2.5 3.1L4.7 0.3Z" fill="#a0a0a0"/></svg>
<svg style="position:absolute;left:116.7px;top:280.9px" width="6.4" height="5.2" viewBox="0 0 6.4 5.2"><rect x="0" y="0" width="6.4" height="1.3" fill="#2f6db5"/><rect x="0.6" y="1.3" width="5.2" height="3.9" fill="#8a8fc6"/><path d="M0.6 2.6H5.8M0.6 3.9H5.8" stroke="#c4c6e4" stroke-width="0.4"/></svg>
<div class="t" style="left:126.6px;top:279.2px;font-size:6.4px;color:#555;font-weight:700;font-family:'DejaVu Sans', Verdana, sans-serif;font-stretch:condensed;">Datum</div>
<div class="t" style="right:521.0px;top:279.2px;font-size:6.4px;color:#555;font-weight:700;font-family:'DejaVu Sans', Verdana, sans-serif;font-stretch:condensed;">Frühstück</div>
<div class="t" style="left:228.4px;top:279.2px;font-size:6.4px;color:#555;font-weight:700;font-family:'DejaVu Sans', Verdana, sans-serif;font-stretch:condensed;">Mittagessen</div>
<div class="t" style="left:276.4px;top:279.2px;font-size:6.4px;color:#555;font-weight:700;font-family:'DejaVu Sans', Verdana, sans-serif;font-stretch:condensed;">Abendessen</div>
<div class="t" style="left:319.2px;top:279.2px;font-size:6.4px;color:#555;font-weight:700;font-family:'DejaVu Sans', Verdana, sans-serif;font-stretch:condensed;">Übernachtung</div>
<div class="t" style="left:378.0px;top:279.2px;font-size:6.4px;color:#a8a8a8;font-weight:700;font-family:'DejaVu Sans', Verdana, sans-serif;font-stretch:condensed;">Reiseland</div>
<div class="t" style="left:645.0px;top:279.2px;font-size:6.4px;color:#a8a8a8;font-weight:700;font-family:'DejaVu Sans', Verdana, sans-serif;font-stretch:condensed;">Diktatzeichen</div>
<div class="t" style="left:115.8px;top:290.4px;font-size:6.05px;color:#666;font-weight:400;font-family:'DejaVu Sans', Verdana, sans-serif;">01.07.2025</div>
<div class="t" style="right:521.5px;top:290.4px;font-size:6.05px;color:#777;font-weight:400;font-family:'DejaVu Sans', Verdana, sans-serif;">1</div>
<div class="t" style="right:473.2px;top:290.4px;font-size:6.05px;color:#777;font-weight:400;font-family:'DejaVu Sans', Verdana, sans-serif;">1</div>
<div class="t" style="right:425.8px;top:290.4px;font-size:6.05px;color:#777;font-weight:400;font-family:'DejaVu Sans', Verdana, sans-serif;">1</div>
<svg style="position:absolute;left:320px;top:291.6px" width="6" height="6" viewBox="0 0 6 6"><rect x="0.4" y="0.4" width="5.2" height="5.2" rx="1" fill="#fff" stroke="#6a6a6a" stroke-width="0.7"/></svg>
<div class="t" style="left:378.0px;top:290.4px;font-size:6.4px;color:#b0b0b0;font-weight:400;font-family:'DejaVu Sans', Verdana, sans-serif;font-stretch:condensed;">Deutschland</div>
<div class="t" style="left:645.0px;top:290.4px;font-size:6.2px;color:#b0b0b0;font-weight:400;font-family:'DejaVu Sans', Verdana, sans-serif;font-stretch:condensed;">HMe</div>
<div class="t" style="left:115.8px;top:302.1px;font-size:6.05px;color:#666;font-weight:400;font-family:'DejaVu Sans', Verdana, sans-serif;">02.07.2025</div>
<div class="t" style="right:521.5px;top:302.1px;font-size:6.05px;color:#777;font-weight:400;font-family:'DejaVu Sans', Verdana, sans-serif;">1</div>
<div class="t" style="right:473.2px;top:302.1px;font-size:6.05px;color:#777;font-weight:400;font-family:'DejaVu Sans', Verdana, sans-serif;">1</div>
<div class="t" style="right:425.8px;top:302.1px;font-size:6.05px;color:#777;font-weight:400;font-family:'DejaVu Sans', Verdana, sans-serif;">1</div>
<svg style="position:absolute;left:320px;top:303.3px" width="6" height="6" viewBox="0 0 6 6"><rect x="0.4" y="0.4" width="5.2" height="5.2" rx="1" fill="#fff" stroke="#6a6a6a" stroke-width="0.7"/></svg>
<div class="t" style="left:378.0px;top:302.1px;font-size:6.4px;color:#b0b0b0;font-weight:400;font-family:'DejaVu Sans', Verdana, sans-serif;font-stretch:condensed;">Deutschland</div>
<div class="t" style="left:645.0px;top:302.1px;font-size:6.2px;color:#b0b0b0;font-weight:400;font-family:'DejaVu Sans', Verdana, sans-serif;font-stretch:condensed;">HMe</div>
<div class="t" style="left:115.8px;top:313.4px;font-size:6.05px;color:#666;font-weight:400;font-family:'DejaVu Sans', Verdana, sans-serif;">03.07.2025</div>
<div class="t" style="right:521.5px;top:313.4px;font-size:6.05px;color:#777;font-weight:400;font-family:'DejaVu Sans', Verdana, sans-serif;">1</div>
<svg style="position:absolute;left:320px;top:314.6px" width="6" height="6" viewBox="0 0 6 6"><rect x="0.4" y="0.4" width="5.2" height="5.2" rx="1" fill="#fff" stroke="#6a6a6a" stroke-width="0.7"/></svg>
<div class="t" style="left:378.0px;top:313.4px;font-size:6.4px;color:#b0b0b0;font-weight:400;font-family:'DejaVu Sans', Verdana, sans-serif;font-stretch:condensed;">Deutschland</div>
<div class="t" style="left:645.0px;top:313.4px;font-size:6.2px;color:#b0b0b0;font-weight:400;font-family:'DejaVu Sans', Verdana, sans-serif;font-stretch:condensed;">HMe</div>
<div class="t" style="left:118.2px;top:352.3px;font-size:6.5px;color:#3a3a3a;font-weight:700;font-family:'DejaVu Sans', Verdana, sans-serif;font-stretch:condensed;">Auszahlung</div>
<div class="t" style="left:118.0px;top:370.3px;font-size:11.75px;color:#1a1a1a;font-weight:400;font-family:'DejaVu Sans', Verdana, sans-serif;">502,40 €</div>
<div style="position:absolute;left:220px;top:352.7px;width:1px;height:39.69999999999999px;background:#e4e4e4"></div>
<svg style="position:absolute;left:227.6px;top:364.8px" width="6" height="6" viewBox="0 0 6 6"><rect x="0.4" y="0.4" width="5.2" height="5.2" rx="1" fill="#fff" stroke="#6a6a6a" stroke-width="0.7"/></svg>
<div class="t" style="left:235.0px;top:363.8px;font-size:6.4px;color:#555;font-weight:400;font-family:'DejaVu Sans', Verdana, sans-serif;font-stretch:condensed;">Genehmigt</div>
<div style="position:absolute;left:284px;top:373.3px;width:34px;height:1.0px;background:#f0f0f0"></div>
<div style="position:absolute;left:282px;top:385.4px;width:45px;height:1.0px;background:#f0f0f0"></div>
<svg style="position:absolute;left:440.4px;top:364.6px" width="6" height="6" viewBox="0 0 6 6"><rect x="0.4" y="0.4" width="5.2" height="5.2" rx="1" fill="#fff" stroke="#6a6a6a" stroke-width="0.7"/></svg>
<div class="t" style="left:448.3px;top:363.4px;font-size:6.4px;color:#555;font-weight:400;font-family:'DejaVu Sans', Verdana, sans-serif;font-stretch:condensed;">Entgeltabrechnung</div>
<div style="position:absolute;left:512px;top:372.5px;width:42px;height:1.0px;background:#f0f0f0"></div>
<svg style="position:absolute;left:440.4px;top:377px" width="6" height="6" viewBox="0 0 6 6"><rect x="0.4" y="0.4" width="5.2" height="5.2" rx="1" fill="#fff" stroke="#c8c8c8" stroke-width="0.7"/></svg>
<div class="t" style="left:448.3px;top:375.8px;font-size:6.4px;color:#777;font-weight:400;font-family:'DejaVu Sans', Verdana, sans-serif;font-stretch:condensed;">mit Entgeltabrechnung verechnet am</div>
<div style="position:absolute;left:563px;top:385px;width:44px;height:1px;background:#f0f0f0"></div>
<svg style="position:absolute;left:620.6px;top:364.6px" width="6" height="6" viewBox="0 0 6 6"><rect x="0.4" y="0.4" width="5.2" height="5.2" rx="1" fill="#fff" stroke="#6a6a6a" stroke-width="0.7"/></svg>
<div class="t" style="left:627.5px;top:363.4px;font-size:6.4px;color:#555;font-weight:400;font-family:'DejaVu Sans', Verdana, sans-serif;font-stretch:condensed;">Überweisung</div>
<div style="position:absolute;left:678px;top:372.5px;width:44px;height:1.0px;background:#f0f0f0"></div>
<svg style="position:absolute;left:620.6px;top:377px" width="6" height="6" viewBox="0 0 6 6"><rect x="0.4" y="0.4" width="5.2" height="5.2" rx="1" fill="#fff" stroke="#6a6a6a" stroke-width="0.7"/></svg>
<div class="t" style="left:627.5px;top:375.8px;font-size:6.4px;color:#555;font-weight:400;font-family:'DejaVu Sans', Verdana, sans-serif;font-stretch:condensed;">Barauszahlung</div>
<div style="position:absolute;left:678px;top:385px;width:44px;height:1px;background:#f0f0f0"></div>
</body></html>
